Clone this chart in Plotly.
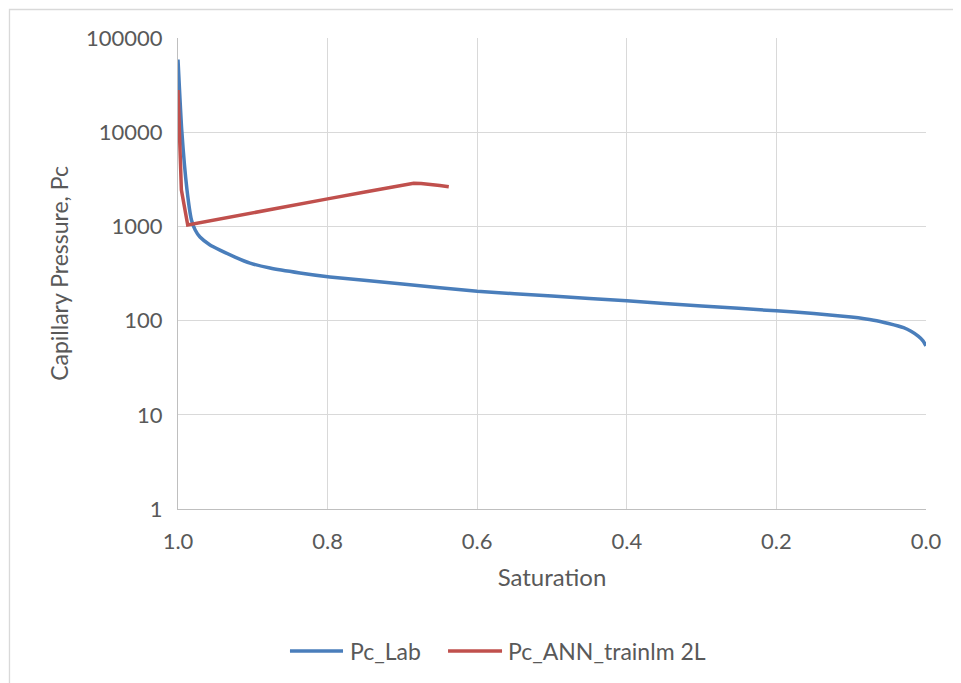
import plotly.graph_objects as go

# Data
sat_lab = [1.0, 0.995, 0.988, 0.982, 0.977, 0.9706, 0.9572, 0.9439, 0.9238, 0.9037, 0.877,
           0.837, 0.797, 0.7, 0.6, 0.5, 0.4, 0.3, 0.2, 0.15, 0.1, 0.07, 0.05, 0.03, 0.02,
           0.01, 0.004, 0.0]
pc_lab = [59000, 10500, 2450, 1170, 917, 771, 635, 561, 473, 408, 361,
          320, 290, 245, 205, 182, 162, 143, 127, 119, 109, 101, 93, 84, 77,
          68, 61, 54]

sat_ann = [1.0, 0.9955, 0.987, 0.95, 0.9, 0.85, 0.8, 0.75, 0.73, 0.717, 0.705, 0.695,
           0.685, 0.675, 0.663, 0.65, 0.638]
pc_ann = [28000, 2450, 1035, 1170, 1380, 1640, 1960, 2320, 2480, 2600, 2730, 2830,
          2870, 2850, 2800, 2720, 2640]

x_ticks = [1.0, 0.8, 0.6, 0.4, 0.2, 0.0]
x_ticktext = ["1.0", "0.8", "0.6", "0.4", "0.2", "0.0"]
y_ticks = [1, 10, 100, 1000, 10000, 100000]
y_ticktext = ["1", "10", "100", "1000", "10000", "100000"]

names = ["Pc_Lab", "Pc_ANN_trainlm 2L"]
colors = ["#4a7ebb", "#c0504d"]

FONT = "Lato, 'Open Sans', sans-serif"
TXT = "#595959"

fig = go.Figure()
fig.add_trace(go.Scatter(x=sat_lab, y=pc_lab, mode="lines", name=names[0], showlegend=False,
                         line=dict(color=colors[0], width=3.5, shape="spline", smoothing=0.5)))
fig.add_trace(go.Scatter(x=sat_ann, y=pc_ann, mode="lines", name=names[1], showlegend=False,
                         line=dict(color=colors[1], width=3.5)))

# manual legend (Excel-style long line samples)
leg_y = -0.3015
leg_items = [(0.1497, 0.2206, 0.2273), (0.361, 0.4332, 0.4385)]
shapes = [dict(type="rect", xref="paper", yref="paper",
               x0=-0.2253, x1=2.0, y0=-1.0, y1=1.0605,
               line=dict(color="#d9d9d9", width=1.3), layer="below")]
annotations = []
for (lx0, lx1, tx), nm, col in zip(leg_items, names, colors):
    shapes.append(dict(type="line", xref="paper", yref="paper", x0=lx0, x1=lx1,
                       y0=leg_y, y1=leg_y, line=dict(color=col, width=3.5)))
    annotations.append(dict(xref="paper", yref="paper", x=tx, y=leg_y, text=nm,
                            showarrow=False, xanchor="left", yanchor="middle",
                            font=dict(size=23, color=TXT, family=FONT)))

fig.update_layout(
    width=953, height=675,
    margin=dict(l=170, r=35, t=30, b=174),
    paper_bgcolor="white", plot_bgcolor="white",
    font=dict(family=FONT, color=TXT, size=22),
    showlegend=False,
    xaxis=dict(range=[1.0, 0.0], tickvals=x_ticks, ticktext=x_ticktext,
               showgrid=True, gridcolor="#d9d9d9", gridwidth=1.3,
               showline=True, linecolor="#bfbfbf", linewidth=1.3,
               zeroline=False, ticks="", ticklabelstandoff=12,
               tickfont=dict(size=22, color=TXT),
               title=dict(text="Saturation", font=dict(size=24, color=TXT), standoff=16)),
    yaxis=dict(type="log", range=[0, 5], tickvals=y_ticks, ticktext=y_ticktext,
               showgrid=True, gridcolor="#d9d9d9", gridwidth=1.3,
               showline=True, linecolor="#bfbfbf", linewidth=1.3,
               zeroline=False, ticks="", ticklabelstandoff=10,
               tickfont=dict(size=22, color=TXT),
               title=dict(text="Capillary Pressure, Pc", font=dict(size=23, color=TXT), standoff=10)),
    shapes=shapes,
    annotations=annotations,
)

fig.write_html("out.html")
